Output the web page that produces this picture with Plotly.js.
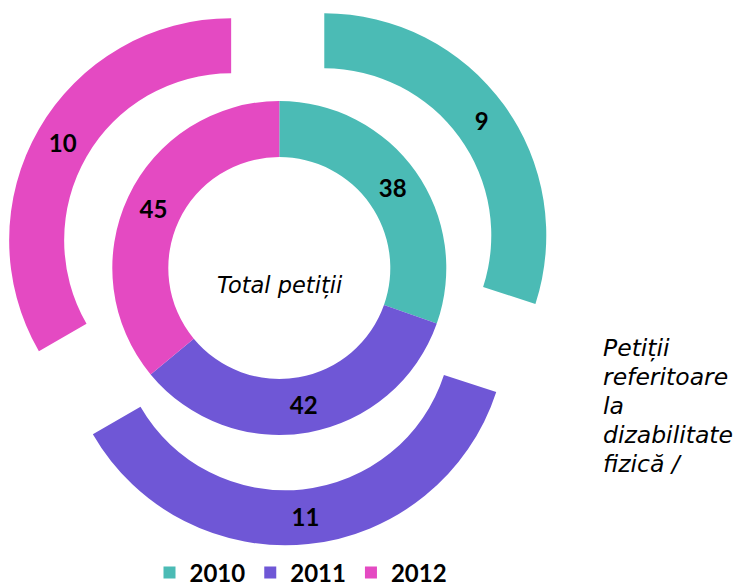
<!DOCTYPE html>
<html>
<head>
<meta charset="utf-8">
<script src="https://cdn.plot.ly/plotly-3.0.1.min.js"></script>
<style>html,body{margin:0;padding:0;background:#fff;}#chart{width:737px;height:587px;}</style>
</head>
<body>
<div id="chart"></div>
<script>
// ---- data ----
const categories = ['2010', '2011', '2012'];
const totalPetitii = [38, 42, 45];          // inner ring
const fizicaPetitii = [9, 11, 10];          // outer ring (exploded)
const centerLabel = 'Total petiții';
const sideLabelLines = ['Petiții', 'referitoare', 'la', 'dizabilitate', 'fizică /'];

// ---- styles / geometry ----
const colors = ['#4BBBB5', '#6F57D6', '#E44AC2'];
const W = 737, H = 587;
const cx = 279.3, cy = 268;
const innerR = 167, innerHoleR = 111;
const outerR = 222, outerHoleR = 167;
const pullPx = 55.6;
const FONT = 'Lato, "Open Sans", sans-serif';
const TFONT = '"DejaVu Sans", "Open Sans", sans-serif';

function dom(x, y, r) {
  return { x: [(x - r) / W, (x + r) / W], y: [1 - (y + r) / H, 1 - (y - r) / H] };
}

const traces = [];
traces.push({
  type: 'pie',
  labels: categories,
  values: totalPetitii,
  sort: false,
  direction: 'clockwise',
  rotation: 0,
  hole: innerHoleR / innerR,
  domain: dom(cx, cy, innerR),
  marker: { colors: colors, line: { width: 0 } },
  textinfo: 'value',
  texttemplate: '<b>%{value}</b>',
  textposition: 'inside',
  insidetextorientation: 'horizontal',
  textfont: { family: FONT, size: 24, color: '#000' },
  hoverinfo: 'label+value',
  showlegend: true
});

// outer ring: one trace per slice so each can be pulled out from the common centre
const totalOuter = fizicaPetitii.reduce((a, b) => a + b, 0);
let cum = 0;
fizicaPetitii.forEach((v, i) => {
  const mid = (cum + v / 2) / totalOuter * 2 * Math.PI;
  cum += v;
  const ox = cx + pullPx * Math.sin(mid);
  const oy = cy - pullPx * Math.cos(mid);
  traces.push({
    type: 'pie',
    labels: categories,
    values: fizicaPetitii,
    sort: false,
    direction: 'clockwise',
    rotation: 0,
    hole: outerHoleR / outerR,
    domain: dom(ox, oy, outerR),
    marker: { colors: colors.map((c, j) => j === i ? c : 'rgba(0,0,0,0)'), line: { width: 0 } },
    texttemplate: categories.map((c, j) => j === i ? '<b>%{value}</b>' : ''),
    textposition: 'inside',
    insidetextorientation: 'horizontal',
    textfont: { family: FONT, size: 24, color: '#000' },
    hoverinfo: 'skip',
    showlegend: false
  });
});

// line spacing follows the base font size (22.3px -> ~29px); glyphs drawn slightly larger via span
const sideText = sideLabelLines.map(t => '<span style="font-size:23.5px">' + t + '</span>').join('<br>');
const annotations = [{
  text: centerLabel,
  xref: 'paper', yref: 'paper',
  x: 280 / W, y: 1 - 285 / H,
  xanchor: 'center', yanchor: 'middle',
  showarrow: false,
  font: { family: TFONT, size: 22.5, style: 'italic', color: '#000' }
}, {
  text: sideText,
  xref: 'paper', yref: 'paper',
  x: 601 / W, y: 1 - 406 / H,
  xanchor: 'left', yanchor: 'middle', align: 'left',
  showarrow: false,
  font: { family: TFONT, size: 22.3, style: 'italic', color: '#000' }
}];

const layout = {
  width: W, height: H,
  margin: { l: 0, r: 0, t: 0, b: 0, autoexpand: false },
  paper_bgcolor: '#fff',
  showlegend: true,
  legend: {
    orientation: 'h',
    x: 301 / W, xanchor: 'center',
    y: 1 - 573 / H, yanchor: 'middle',
    font: { family: FONT, size: 24, weight: 700, color: '#000' },
    bgcolor: 'rgba(0,0,0,0)'
  },
  annotations: annotations
};

Plotly.newPlot('chart', traces, layout, { displayModeBar: false, staticPlot: true });
</script>
</body>
</html>
